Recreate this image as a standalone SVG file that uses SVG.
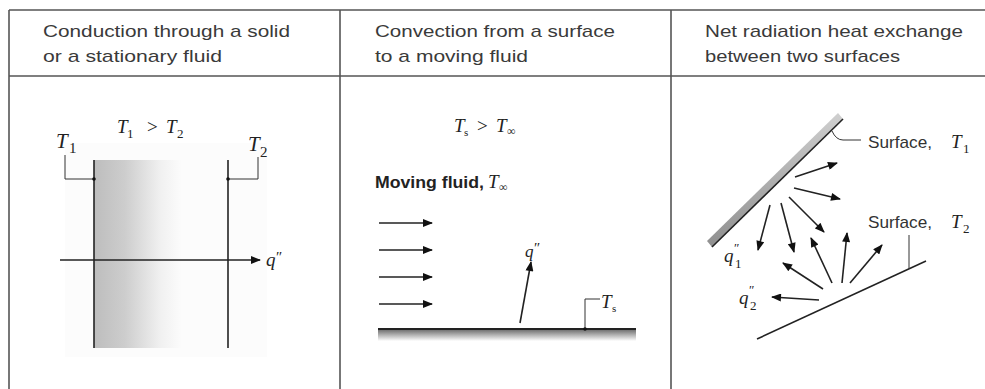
<svg xmlns="http://www.w3.org/2000/svg" width="985" height="389" viewBox="0 0 985 389">
<defs>
<style>
.hdr{font-family:"Liberation Sans",Arial,sans-serif;font-size:17px;fill:#3a3a3a}
.lab{font-family:"Liberation Sans",Arial,sans-serif;font-size:17px;fill:#333}
.bold{font-family:"Liberation Sans",Arial,sans-serif;font-size:16px;font-weight:bold;fill:#222}
.it{font-family:"Liberation Serif","Times New Roman",serif;font-style:italic;font-size:19px;fill:#222}
.sub{font-family:"Liberation Serif","Times New Roman",serif;font-size:13px;fill:#222}
.pr{font-family:"Liberation Serif","Times New Roman",serif;font-size:15px;fill:#222}
.grid{stroke:#555;stroke-width:1.6;fill:none}
.ln{stroke:#222;stroke-width:1.6;fill:none}
.thin{stroke:#333;stroke-width:1;fill:none}
.arr{stroke:#222;stroke-width:1.6;fill:none;marker-end:url(#ah)}
</style>
<marker id="ah" viewBox="0 0 10 8" refX="9" refY="4" markerWidth="11" markerHeight="8" markerUnits="userSpaceOnUse" orient="auto">
<path d="M0,0 L10,4 L0,8 Z" fill="#111"/>
</marker>
<linearGradient id="slab" x1="94" y1="0" x2="182" y2="0" gradientUnits="userSpaceOnUse">
<stop offset="0" stop-color="#bdbdbd"/>
<stop offset="0.35" stop-color="#cdcdcd"/>
<stop offset="0.75" stop-color="#f0f0f0"/>
<stop offset="1" stop-color="#fcfcfc"/>
</linearGradient>
<linearGradient id="surf" x1="0" y1="329" x2="0" y2="341" gradientUnits="userSpaceOnUse">
<stop offset="0" stop-color="#666"/>
<stop offset="1" stop-color="#fff"/>
</linearGradient>
<linearGradient id="rad" x1="0" y1="0" x2="0" y2="1">
<stop offset="0" stop-color="#cfcfcf"/>
<stop offset="1" stop-color="#8f8f8f"/>
</linearGradient>
</defs>
<rect width="985" height="389" fill="#fff"/>

<g id="table">
<line class="grid" x1="9" y1="10" x2="985" y2="10"/>
<line class="grid" x1="9" y1="76" x2="985" y2="76"/>
<line class="grid" x1="9" y1="10" x2="9" y2="389"/>
<line class="grid" x1="340" y1="10" x2="340" y2="389"/>
<line class="grid" x1="671" y1="10" x2="671" y2="389"/>
</g>

<g id="headers">
<text class="hdr" x="43" y="37" textLength="247" lengthAdjust="spacingAndGlyphs">Conduction through a solid</text>
<text class="hdr" x="43" y="62" textLength="179" lengthAdjust="spacingAndGlyphs">or a stationary fluid</text>
<text class="hdr" x="375" y="37" textLength="240" lengthAdjust="spacingAndGlyphs">Convection from a surface</text>
<text class="hdr" x="375" y="62" textLength="153" lengthAdjust="spacingAndGlyphs">to a moving fluid</text>
<text class="hdr" x="705" y="37" textLength="258" lengthAdjust="spacingAndGlyphs">Net radiation heat exchange</text>
<text class="hdr" x="705" y="62" textLength="195" lengthAdjust="spacingAndGlyphs">between two surfaces</text>
</g>

<g id="conduction">
<rect x="65" y="143" width="202" height="214" fill="#fcfcfc"/>
<rect x="94" y="160" width="88" height="188" fill="url(#slab)"/>
<line class="ln" x1="94" y1="160" x2="94" y2="348"/>
<line class="ln" x1="228" y1="160" x2="228" y2="348"/>
<path class="thin" d="M65,155 L65,179 L94,179"/>
<path class="thin" d="M258,157 L258,179 L228,179"/>
<circle cx="94" cy="179" r="1.8" fill="#111"/>
<circle cx="228" cy="179" r="1.8" fill="#111"/>
<text class="it" x="117" y="133">T</text><text class="sub" x="127" y="138">1</text>
<text class="it" x="147" y="133" style="font-style:normal">&gt;</text>
<text class="it" x="166" y="133">T</text><text class="sub" x="177" y="138">2</text>
<text class="it" x="56" y="148" style="font-size:21px">T</text><text class="sub" x="69" y="153" style="font-size:15px">1</text>
<text class="it" x="248" y="151" style="font-size:21px">T</text><text class="sub" x="260" y="157" style="font-size:15px">2</text>
<line class="arr" x1="60" y1="260" x2="260" y2="260"/>
<text class="it" x="266" y="266">q</text><text class="pr" x="276" y="262">″</text>
</g>

<g id="convection">
<rect x="378" y="329" width="258" height="12" fill="url(#surf)"/>
<line class="ln" x1="378" y1="329" x2="636" y2="329" style="stroke-width:2"/>
<text class="it" x="454" y="132">T</text><text class="sub" x="464" y="136" style="font-size:11px">s</text>
<text class="it" x="477" y="132" style="font-style:normal">&gt;</text>
<text class="it" x="496" y="132">T</text><text class="sub" x="507" y="135" style="font-size:12px">∞</text>
<text class="bold" x="375" y="188" textLength="109" lengthAdjust="spacingAndGlyphs">Moving fluid,</text>
<text class="it" x="488" y="188">T</text><text class="sub" x="499" y="191" style="font-size:12px">∞</text>
<line class="arr" x1="379" y1="223" x2="432" y2="223"/>
<line class="arr" x1="379" y1="250" x2="432" y2="250"/>
<line class="arr" x1="379" y1="277" x2="432" y2="277"/>
<line class="arr" x1="379" y1="304" x2="432" y2="304"/>
<line class="arr" x1="520" y1="323" x2="531" y2="262"/>
<text class="it" x="525" y="257" style="font-size:17px">q</text><text class="pr" x="534" y="253">″</text>
<path class="thin" d="M585,329 L585,299 L600,299"/>
<circle cx="585" cy="329" r="1.8" fill="#111"/>
<text class="it" x="601" y="308">T</text><text class="sub" x="612" y="312" style="font-size:11px">s</text>
</g>

<g id="radiation">
<polygon points="712,247 843,119 838,113 707,241" fill="url(#rad)"/>
<line class="ln" x1="712" y1="247" x2="843" y2="119"/>
<path class="thin" d="M832,131 Q836,140 843,140 L861,140"/>
<text class="lab" x="868" y="148" textLength="64" lengthAdjust="spacingAndGlyphs">Surface,</text>
<text class="it" x="951" y="148">T</text><text class="sub" x="963" y="153">1</text>
<text class="lab" x="868" y="228" textLength="64" lengthAdjust="spacingAndGlyphs">Surface,</text>
<text class="it" x="951" y="228">T</text><text class="sub" x="963" y="233">2</text>
<line class="ln" x1="757" y1="339" x2="926" y2="261"/>
<line class="thin" x1="909" y1="235" x2="909" y2="269"/>
<line class="arr" x1="795" y1="177" x2="837" y2="163"/>
<line class="arr" x1="794" y1="188" x2="840" y2="199"/>
<line class="arr" x1="789" y1="197" x2="824" y2="232"/>
<line class="arr" x1="781" y1="203" x2="794" y2="252"/>
<line class="arr" x1="770" y1="205" x2="758" y2="250"/>
<line class="arr" x1="832" y1="283" x2="811" y2="238"/>
<line class="arr" x1="842" y1="283" x2="847" y2="233"/>
<line class="arr" x1="850" y1="283" x2="882" y2="245"/>
<line class="arr" x1="823" y1="289" x2="783" y2="263"/>
<line class="arr" x1="819" y1="300" x2="772" y2="297"/>
<text class="it" x="724" y="262">q</text><text class="sub" x="734" y="252">″</text><text class="sub" x="735" y="268">1</text>
<text class="it" x="739" y="304">q</text><text class="sub" x="749" y="294">″</text><text class="sub" x="750" y="310">2</text>
</g>
</svg>
